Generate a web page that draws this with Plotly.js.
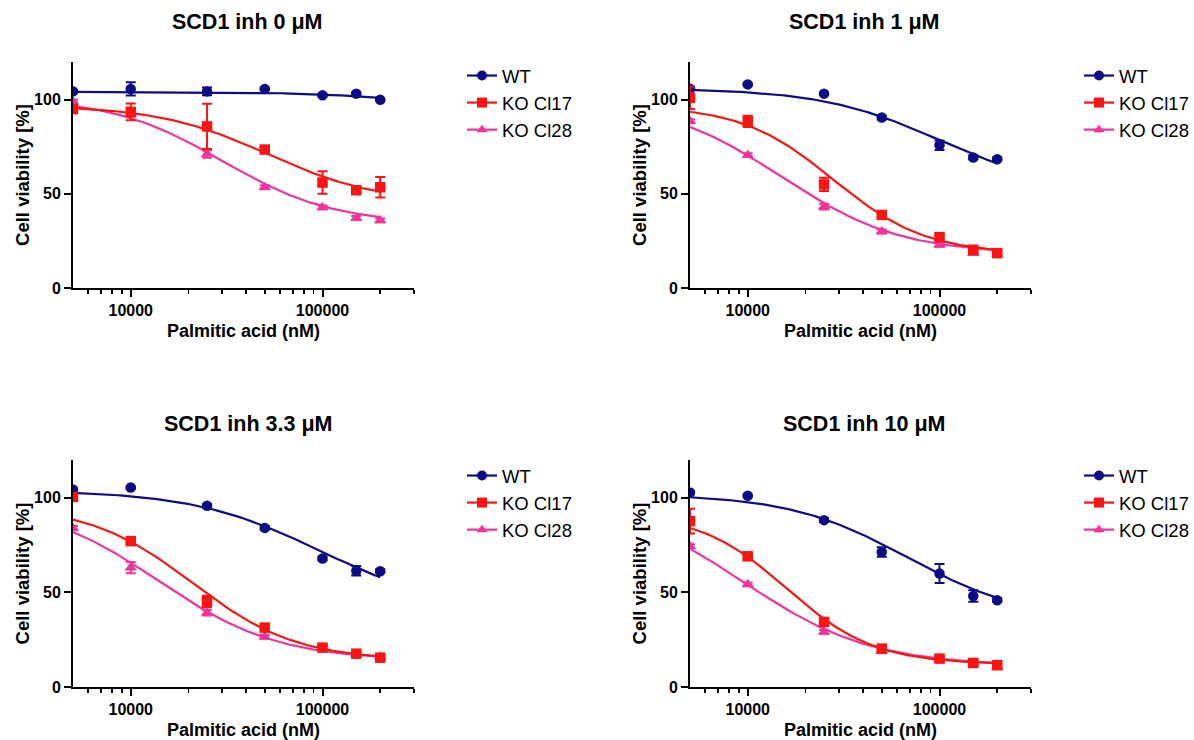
<!DOCTYPE html>
<html>
<head>
<meta charset="utf-8">
<script src="https://cdn.plot.ly/plotly-3.0.1.min.js"></script>
<style>html,body{margin:0;padding:0;background:#fff;}#chart{width:1194px;height:740px;}</style>
</head>
<body>
<div id="chart"></div>
<script>
// ---------------- DATA ----------------
const panelTitles = ["SCD1 inh 0 μM", "SCD1 inh 1 μM", "SCD1 inh 3.3 μM", "SCD1 inh 10 μM"];
const seriesNames = ["WT", "KO Cl17", "KO Cl28"];
const concentrations = [5000, 10000, 25000, 50000, 100000, 150000, 200000];

// mean viability (%) per panel
const wtMeans = [
  [104.4, 105.7, 104.4, 105.7, 102.3, 103.2, 100.0],
  [105.8, 108.1, 103.2, 90.5, 75.8, 69.3, 68.4],
  [104.4, 105.5, 95.8, 84.1, 67.9, 61.4, 61.2],
  [102.8, 101.1, 88.2, 71.4, 60.0, 48.1, 45.9]
];
const ko17Means = [
  [95.0, 93.5, 85.8, 73.5, 56.0, 51.9, 53.5],
  [101.0, 88.5, 55.0, 38.8, 27.0, 20.3, 18.5],
  [100.5, 77.1, 45.3, 31.4, 20.8, 17.6, 15.5],
  [87.7, 69.1, 34.4, 20.3, 15.0, 12.7, 11.5]
];
const ko28Means = [
  [99.0, 92.0, 71.2, 53.5, 42.8, 37.2, 35.9],
  [88.5, 70.5, 43.2, 30.0, 22.9, 18.5, 18.0],
  [84.1, 63.1, 39.3, 26.5, 20.8, 17.6, 15.9],
  [74.4, 54.3, 29.1, 19.0, 15.0, 12.7, 10.6]
];
// error bars (SD)
const wtErr = [
  [0.5, 3.5, 2.0, 0.5, 0.8, 0.8, 0.5],
  [0.5, 0.5, 0.5, 1.0, 2.5, 1.0, 1.0],
  [0.5, 0.5, 1.0, 1.0, 1.0, 2.5, 1.0],
  [0.5, 0.5, 1.0, 2.5, 5.0, 3.0, 1.0]
];
const ko17Err = [
  [1.0, 4.4, 12.0, 1.5, 6.0, 1.0, 5.5],
  [6.0, 3.0, 3.5, 1.0, 1.5, 1.0, 1.0],
  [1.0, 1.0, 3.0, 1.0, 1.0, 1.0, 1.0],
  [6.5, 1.5, 1.5, 1.0, 1.0, 1.0, 1.5]
];
const ko28Err = [
  [1.0, 1.0, 2.0, 1.0, 1.0, 1.0, 1.0],
  [1.0, 1.0, 1.5, 1.0, 1.0, 1.0, 1.0],
  [1.0, 3.0, 1.5, 1.0, 1.0, 1.0, 1.0],
  [1.0, 1.0, 1.0, 1.0, 1.0, 1.0, 1.0]
];
// 4-parameter logistic fit per panel: [top, bottom, EC50 (nM), Hill slope]
const wtFit = [[104.2, 95, 300000, 1.5], [106, 51, 100000, 1.4], [104, 40, 97000, 1.3], [102, 35, 68000, 1.4]];
const ko17Fit = [[97, 45, 52000, 1.5], [97, 18, 28000, 1.8], [96, 14, 21000, 1.6], [92, 12, 16000, 1.9]];
const ko28Fit = [[101, 34, 30000, 1.5], [100, 18, 15000, 1.4], [98, 14, 14000, 1.4], [100, 11, 9500, 1.3]];
const fitRange = [5000, 200000];
const xTickVals = [10000, 100000];
const xMinorVals = [6000, 7000, 8000, 9000, 20000, 30000, 40000, 50000, 60000, 70000, 80000, 90000, 200000, 300000];
const yTickVals = [0, 50, 100];

// ---------------- STYLE ----------------
const colors = ["#0c0c85", "#fa1414", "#f2349a"];
const symbols = ["circle", "square", "triangle-up"];
const FONT = "Liberation Sans, Arial, Helvetica, sans-serif";

const means = [wtMeans, ko17Means, ko28Means];
const errs = [wtErr, ko17Err, ko28Err];
const fits = [wtFit, ko17Fit, ko28Fit];

function logistic(p, x) { return p[1] + (p[0] - p[1]) / (1 + Math.pow(x / p[2], p[3])); }
function curveX() {
  const a = Math.log10(fitRange[0]), b = Math.log10(fitRange[1]), n = 150, out = [];
  for (let i = 0; i <= n; i++) out.push(Math.pow(10, a + (b - a) * i / n));
  return out;
}

const traces = [];
const drawOrder = [0, 2, 1];
for (let p = 0; p < 4; p++) {
  const sfx = p === 0 ? "" : String(p + 1);
  const xa = "x" + sfx, ya = "y" + sfx, lg = "legend" + sfx;
  const cx = curveX();
  drawOrder.forEach(s => {
    traces.push({
      x: cx, y: cx.map(v => logistic(fits[s][p], v)), xaxis: xa, yaxis: ya,
      mode: "lines", line: {color: colors[s], width: 2.2}, showlegend: false, hoverinfo: "skip"
    });
  });
  drawOrder.forEach(s => {
    traces.push({
      x: concentrations, y: means[s][p], xaxis: xa, yaxis: ya, mode: "markers",
      marker: {color: colors[s], symbol: symbols[s], size: s === 2 ? 11 : 10.5},
      error_y: {type: "data", array: errs[s][p], visible: true, color: colors[s], thickness: 2, width: 5},
      showlegend: false
    });
  });
  // legend entries
  [0, 1, 2].forEach(s => {
    traces.push({
      x: [null], y: [null], xaxis: xa, yaxis: ya, mode: "lines+markers", name: seriesNames[s],
      line: {color: colors[s], width: 2.2}, marker: {color: colors[s], symbol: symbols[s], size: 10},
      legend: lg, legendrank: s + 1, showlegend: true
    });
  });
}

const xDom = [[73 / 1194, 414 / 1194], [690 / 1194, 1031 / 1194]];
const yDom = [[1 - 288 / 740, 1 - 62 / 740], [1 - 687 / 740, 1 - 460 / 740]];

const layout = {
  width: 1194, height: 740,
  margin: {l: 0, r: 0, t: 0, b: 0},
  paper_bgcolor: "#fff", plot_bgcolor: "#fff",
  font: {family: FONT, color: "#000"},
  annotations: [],
  showlegend: true
};

for (let p = 0; p < 4; p++) {
  const sfx = p === 0 ? "" : String(p + 1);
  const col = p % 2, row = Math.floor(p / 2);
  layout["xaxis" + sfx] = {
    type: "log", domain: xDom[col], anchor: "y" + sfx,
    range: [Math.log10(5000), Math.log10(300000)],
    tickmode: "array", tickvals: xTickVals, ticktext: xTickVals.map(String),
    ticks: "outside", ticklen: 7, tickwidth: 2, tickcolor: "#000",
    minor: {tickmode: "array", tickvals: xMinorVals, ticks: "outside", ticklen: 4, tickwidth: 1.5, tickcolor: "#000", showgrid: false},
    showline: true, linewidth: 2, linecolor: "#000", showgrid: false, zeroline: false,
    tickfont: {family: FONT, size: 16, weight: "bold", color: "#000"},
    title: {text: "Palmitic acid (nM)", font: {family: FONT, size: 18, weight: "bold", color: "#000"}, standoff: 6},
    automargin: false, fixedrange: true
  };
  layout["yaxis" + sfx] = {
    domain: yDom[row], anchor: "x" + sfx, range: [0, 120],
    tickmode: "array", tickvals: yTickVals,
    ticks: "outside", ticklen: 7, tickwidth: 2, tickcolor: "#000",
    showline: true, linewidth: 2, linecolor: "#000", showgrid: false, zeroline: false,
    tickfont: {family: FONT, size: 16, weight: "bold", color: "#000"},
    title: {text: "Cell viability [%]", font: {family: FONT, size: 18.5, weight: "bold", color: "#000"}, standoff: 0},
    automargin: false, fixedrange: true
  };
  layout["legend" + sfx] = {
    x: (col === 0 ? 462 : 1079) / 1194, xanchor: "left",
    y: 1 - (row === 0 ? 57 : 457) / 740, yanchor: "top",
    bgcolor: "rgba(0,0,0,0)", borderwidth: 0,
    font: {family: FONT, size: 18.5, color: "#000"},
    traceorder: "normal", itemclick: false, itemdoubleclick: false
  };
  layout.annotations.push({
    text: panelTitles[p], xref: "paper", yref: "paper",
    x: ((col === 0 ? 73 : 690) + 341 / 2 + 4) / 1194, y: 1 - (row === 0 ? 22 : 424) / 740,
    xanchor: "center", yanchor: "middle", showarrow: false,
    font: {family: FONT, size: 21.5, weight: "bold", color: "#000"}
  });
}

Plotly.newPlot("chart", traces, layout, {displayModeBar: false, staticPlot: true});
</script>
</body>
</html>
